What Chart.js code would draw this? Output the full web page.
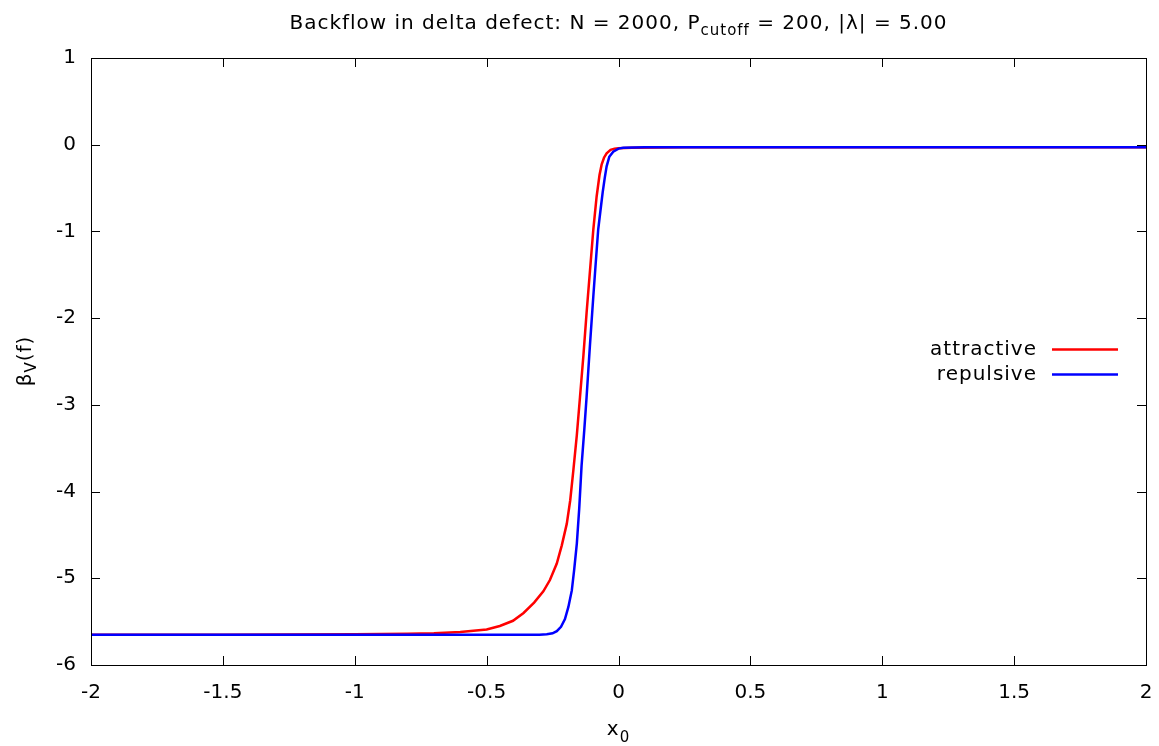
<!DOCTYPE html>
<html>
<head>
<meta charset="utf-8">
<script src="https://cdn.jsdelivr.net/npm/chart.js@4"></script>
<style>
  html, body { margin: 0; padding: 0; background: #fff; }
  #wrap { width: 1159px; height: 746px; }
</style>
</head>
<body>
<div id="wrap"><canvas id="backflowChart"></canvas></div>
<script>
// values
const attrX = [-2, -1.5, -1, -0.8, -0.7, -0.6, -0.5, -0.45, -0.4, -0.36, -0.32, -0.285, -0.26, -0.234, -0.215, -0.196, -0.183, -0.171, -0.158, -0.146, -0.133, -0.121, -0.108, -0.0955, -0.083, -0.072, -0.064, -0.055, -0.045, -0.03, -0.015, 0, 0.05, 0.25, 0.5, 1, 1.5, 2];
const attrY = [-5.65, -5.65, -5.645, -5.64, -5.635, -5.62, -5.59, -5.55, -5.49, -5.40, -5.28, -5.15, -5.02, -4.83, -4.62, -4.37, -4.10, -3.75, -3.35, -2.91, -2.43, -1.94, -1.45, -0.98, -0.60, -0.35, -0.23, -0.15, -0.10, -0.06, -0.045, -0.04, -0.035, -0.03, -0.03, -0.03, -0.03, -0.03];
const repX = [-2, -1, -0.5, -0.3, -0.272, -0.25, -0.234, -0.218, -0.203, -0.19, -0.177, -0.168, -0.158, -0.149, -0.14, -0.13, -0.121, -0.108, -0.0955, -0.086, -0.077, -0.068, -0.06, -0.052, -0.045, -0.035, -0.02, 0, 0.018, 0.1, 0.5, 1, 1.5, 2];
const repY = [-5.65, -5.65, -5.65, -5.65, -5.645, -5.635, -5.61, -5.56, -5.47, -5.33, -5.14, -4.90, -4.60, -4.20, -3.70, -3.30, -2.91, -2.30, -1.75, -1.35, -0.98, -0.75, -0.55, -0.38, -0.25, -0.14, -0.08, -0.045, -0.035, -0.03, -0.03, -0.03, -0.03, -0.03];
const seriesNames = ["attractive", "repulsive"];
const xTicks = [-2, -1.5, -1, -0.5, 0, 0.5, 1, 1.5, 2];
const yTicks = [-6, -5, -4, -3, -2, -1, 0, 1];

const FONT = "'DejaVu Sans', sans-serif";

function toPoints(xs, ys) {
    return xs.map((x, i) => ({ x: x, y: ys[i] }));
}

// gnuplot-like frame, inward ticks, titles and key
const gnuplotLook = {
    id: "gnuplotLook",
    afterDraw(chart) {
        const ctx = chart.ctx;
        const a = chart.chartArea;
        const xs = chart.scales.x;
        const ys = chart.scales.y;
        ctx.save();
        ctx.strokeStyle = "#000";
        ctx.lineWidth = 1;
        ctx.strokeRect(Math.round(a.left) + 0.5, Math.round(a.top) + 0.5, Math.round(a.right - a.left), Math.round(a.bottom - a.top));
        const tl = 9;
        ctx.beginPath();
        xTicks.forEach(v => {
            const px = Math.round(xs.getPixelForValue(v)) + 0.5;
            ctx.moveTo(px, a.bottom); ctx.lineTo(px, a.bottom - tl);
            ctx.moveTo(px, a.top); ctx.lineTo(px, a.top + tl);
        });
        yTicks.forEach(v => {
            const py = Math.round(ys.getPixelForValue(v)) + 0.5;
            ctx.moveTo(a.left, py); ctx.lineTo(a.left + tl, py);
            ctx.moveTo(a.right, py); ctx.lineTo(a.right - tl, py);
        });
        ctx.stroke();

        ctx.fillStyle = "#000";
        ctx.textBaseline = "alphabetic";
        ctx.letterSpacing = "1px";

        // title with subscript
        const parts = [
            ["Backflow in delta defect: N = 2000, P", false],
            ["cutoff", true],
            [" = 200, |\u03bb| = 5.00", false]
        ];
        const big = "20px " + FONT, small = "15px " + FONT;
        let total = 0;
        parts.forEach(p => { ctx.font = p[1] ? small : big; total += ctx.measureText(p[0]).width; });
        let x = (a.left + a.right) / 2 - total / 2;
        ctx.textAlign = "left";
        parts.forEach(p => {
            ctx.font = p[1] ? small : big;
            ctx.fillText(p[0], x, p[1] ? 35 : 29);
            x += ctx.measureText(p[0]).width;
        });

        // x axis title
        ctx.font = big;
        const cx = (a.left + a.right) / 2;
        const wx = ctx.measureText("x").width;
        ctx.font = small;
        const w0 = ctx.measureText("0").width;
        ctx.font = big;
        ctx.fillText("x", cx - (wx + w0) / 2, 735);
        ctx.font = small;
        ctx.fillText("0", cx - (wx + w0) / 2 + wx, 742);

        // y axis title, rotated
        ctx.save();
        ctx.translate(31, 361);
        ctx.rotate(-Math.PI / 2);
        ctx.font = big;
        const wb = ctx.measureText("\u03b2").width;
        ctx.font = small;
        const wv = ctx.measureText("V").width;
        ctx.font = big;
        const wf = ctx.measureText("(f)").width;
        let ty = -(wb + wv + wf) / 2;
        ctx.fillText("\u03b2", ty, 0);
        ctx.font = small;
        ctx.fillText("V", ty + wb, 5);
        ctx.font = big;
        ctx.fillText("(f)", ty + wb + wv, 0);
        ctx.restore();

        // key
        const keyY = [349.5, 374.5];
        ctx.font = big;
        ctx.textAlign = "right";
        ctx.textBaseline = "middle";
        chart.data.datasets.forEach((ds, i) => {
            ctx.fillStyle = "#000";
            ctx.fillText(seriesNames[i], 1037, keyY[i]);
            ctx.strokeStyle = ds.borderColor;
            ctx.lineWidth = 2.5;
            ctx.beginPath();
            ctx.moveTo(1052, keyY[i]);
            ctx.lineTo(1118, keyY[i]);
            ctx.stroke();
        });
        ctx.restore();
    }
};

const ctx = document.getElementById("backflowChart").getContext("2d");
const backflowChart = new Chart(ctx, {
    type: "line",
    data: {
        datasets: [
            {
                label: seriesNames[0],
                data: toPoints(attrX, attrY),
                borderColor: "#ff0000",
                borderWidth: 2.5,
                pointRadius: 0,
                tension: 0,
                fill: false,
                order: 1,
            },
            {
                label: seriesNames[1],
                data: toPoints(repX, repY),
                borderColor: "#0000ff",
                borderWidth: 2.5,
                pointRadius: 0,
                tension: 0,
                fill: false,
                order: 0,
            },
        ],
    },
    options: {
        responsive: true,
        maintainAspectRatio: false,
        animation: false,
        layout: {
            padding: { top: 58, right: 13, left: 0, bottom: 0 }
        },
        plugins: {
            legend: { display: false },
            title: { display: false },
            tooltip: { enabled: false }
        },
        scales: {
            x: {
                type: "linear",
                min: -2,
                max: 2,
                afterFit: s => { s.height = 81; s.paddingLeft = 0; s.paddingRight = 0; },
                afterBuildTicks: s => { s.ticks = xTicks.map(v => ({ value: v })); },
                grid: { display: false, drawTicks: false },
                border: { display: false },
                ticks: {
                    color: "#000",
                    padding: 16,
                    maxRotation: 0,
                    font: { family: FONT, size: 20 },
                    callback: v => String(v)
                }
            },
            y: {
                type: "linear",
                min: -6,
                max: 1,
                afterFit: s => { s.width = 91; s.paddingTop = 0; s.paddingBottom = 0; },
                afterBuildTicks: s => { s.ticks = yTicks.map(v => ({ value: v })); },
                grid: { display: false, drawTicks: false },
                border: { display: false },
                ticks: {
                    color: "#000",
                    padding: 15,
                    font: { family: FONT, size: 20 },
                    callback: v => String(v)
                }
            }
        }
    },
    plugins: [gnuplotLook]
});
</script>
</body>
</html>
